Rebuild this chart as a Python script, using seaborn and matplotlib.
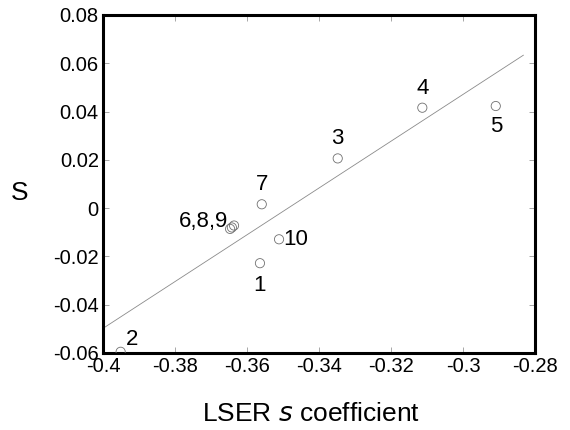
import numpy as np
import pandas as pd
import matplotlib
matplotlib.use("Agg")
import matplotlib.pyplot as plt
import seaborn as sns

# data
labels = ["1", "2", "3", "4", "5", "6", "7", "8", "9", "10"]
s_coef = [-0.3564, -0.3951, -0.3348, -0.3113, -0.2909, -0.3647, -0.3559, -0.3642, -0.3636, -0.3511]
S_vals = [-0.0228, -0.0595, 0.0206, 0.0416, 0.0423, -0.0086, 0.0016, -0.0080, -0.0072, -0.0129]
fit_slope = 0.969
fit_intercept = 0.3378   # S = slope * s + intercept
fit_x = [-0.4, -0.2832]
xticks = [-0.4, -0.38, -0.36, -0.34, -0.32, -0.3, -0.28]
xtick_labels = ["-0.4", "-0.38", "-0.36", "-0.34", "-0.32", "-0.3", "-0.28"]
yticks = [-0.06, -0.04, -0.02, 0, 0.02, 0.04, 0.06, 0.08]
ytick_labels = ["-0.06", "-0.04", "-0.02", "0", "0.02", "0.04", "0.06", "0.08"]

sns.set_style("white")
plt.rcParams["font.family"] = ["Liberation Sans", "DejaVu Sans"]
plt.rcParams["text.color"] = "black"
plt.rcParams["axes.labelcolor"] = "black"
plt.rcParams["xtick.labelcolor"] = "black"
plt.rcParams["ytick.labelcolor"] = "black"

df = pd.DataFrame({"s": s_coef, "S": S_vals, "label": labels})
line_df = pd.DataFrame({"s": fit_x, "S": [fit_slope * x + fit_intercept for x in fit_x]})

fig = plt.figure(figsize=(5.7, 4.3), dpi=100)
ax = fig.add_axes([103 / 570, 1 - 353 / 430, 432 / 570, 338 / 430])

sns.lineplot(data=line_df, x="s", y="S", ax=ax, color="#8a8a8a", linewidth=0.6)
sns.scatterplot(data=df, x="s", y="S", ax=ax, marker="o", s=44,
                facecolor="none", edgecolor="#707070", linewidth=0.6, zorder=3)

# point labels
offsets = {
    "1": (0, -16, "center", "center"),
    "2": (4, 9, "left", "center"),
    "3": (0, 14, "center", "center"),
    "4": (0, 14, "center", "center"),
    "5": (0, -15, "center", "center"),
    "7": (0, 14, "center", "center"),
    "10": (3, 0, "left", "center"),
}
for lab, x, y in zip(labels, s_coef, S_vals):
    if lab in offsets:
        dx, dy, ha, va = offsets[lab]
        ax.annotate(lab, (x, y), xytext=(dx, dy), textcoords="offset points",
                    ha=ha, va=va, fontsize=16)
ax.annotate("6,8,9", (s_coef[7], S_vals[7]), xytext=(-3, 4), textcoords="offset points",
            ha="right", va="center", fontsize=16)

ax.set_xlim(-0.4, -0.28)
ax.set_ylim(-0.06, 0.08)
ax.set_xticks(xticks)
ax.set_xticklabels(xtick_labels)
ax.set_yticks(yticks)
ax.set_yticklabels(ytick_labels)
ax.tick_params(direction="in", length=4, width=0.6, color="#999999",
               labelsize=14.5, top=True, right=True, bottom=True, left=True, pad=3)
for sp in ax.spines.values():
    sp.set_linewidth(2.2)
    sp.set_color("black")

ax.set_xlabel("LSER $\\it{s}$ coefficient", fontsize=19, labelpad=18)
ax.xaxis.set_label_coords(0.48, -0.14, transform=ax.transAxes)
ax.xaxis.label.set_va("top")
ax.set_ylabel("S", fontsize=19, rotation=0, labelpad=22, va="center")
ax.yaxis.set_label_coords(20 / 570 - 103 / 570, (430 - 193 - (430 - 353)) / 338,
                          transform=ax.transAxes)
# convert properly: place S at figure px (20, 193)
ax.yaxis.set_label_coords((20 - 103) / 432, (353 - 193) / 338)
ax.xaxis.set_label_coords((311 - 103) / 432, (353 - 402) / 338)

fig.savefig("out.png", dpi=100)
